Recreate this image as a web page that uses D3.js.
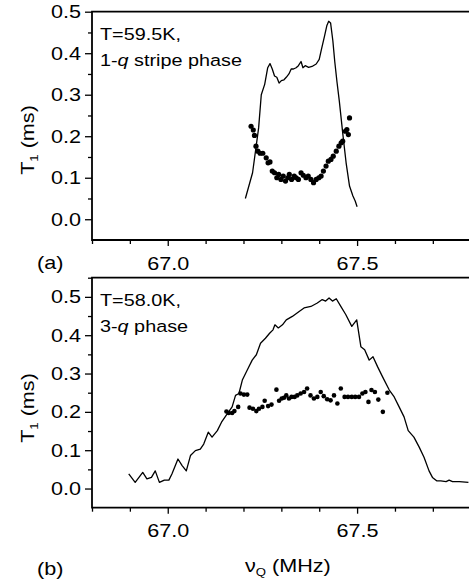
<!DOCTYPE html>
<html>
<head>
    <meta charset="utf-8">
    <title>T1 vs nuQ</title>
    <script type="text/javascript" src="https://cdn.jsdelivr.net/npm/d3@7"></script>
    <style>
        body { margin: 0; background: #fff; }
        svg { display: block; }
        text { font-family: "Liberation Sans", Arial, sans-serif; fill: #000; }
        .axis path.domain { stroke: none; }
        .axis line { stroke: #000; stroke-width: 1.3; }
    </style>
</head>
<body>
<script type="text/javascript">
// ---- data ----
var xMajor = [67.0, 67.5],
    xMinor = [66.8, 66.9, 67.1, 67.2, 67.3, 67.4, 67.6, 67.7],
    xLabels = ["67.0", "67.5"];

var aYMajor = [0, 0.1, 0.2, 0.3, 0.4, 0.5],
    aYMinor = [0.05, 0.15, 0.25, 0.35, 0.45],
    bYMajor = [0, 0.1, 0.2, 0.3, 0.4, 0.5],
    bYMinor = [0.05, 0.15, 0.25, 0.35, 0.45, 0.55];

// panel (a): spectrum line and T1 points
var aLine = [[67.205,0.050],[67.224,0.112],[67.240,0.220],[67.247,0.300],[67.256,0.325],[67.264,0.365],
    [67.270,0.375],[67.276,0.362],[67.282,0.345],[67.288,0.342],[67.294,0.328],[67.300,0.334],
    [67.307,0.336],[67.313,0.342],[67.320,0.350],[67.326,0.362],[67.332,0.362],[67.339,0.365],
    [67.345,0.370],[67.352,0.380],[67.357,0.365],[67.363,0.370],[67.372,0.366],[67.381,0.368],
    [67.392,0.374],[67.400,0.385],[67.406,0.410],[67.414,0.441],[67.420,0.466],[67.425,0.477],
    [67.430,0.473],[67.436,0.430],[67.441,0.380],[67.447,0.330],[67.453,0.285],[67.462,0.208],
    [67.471,0.136],[67.480,0.080],[67.489,0.056],[67.495,0.044],[67.500,0.030]];

var aDots = [[67.220,0.224],[67.226,0.215],[67.229,0.202],[67.233,0.176],[67.238,0.164],[67.244,0.159],
    [67.251,0.159],[67.260,0.148],[67.265,0.136],[67.270,0.138],[67.276,0.116],[67.282,0.112],
    [67.288,0.100],[67.293,0.108],[67.299,0.096],[67.305,0.104],[67.311,0.092],[67.317,0.100],
    [67.321,0.108],[67.327,0.096],[67.334,0.104],[67.339,0.100],[67.345,0.096],[67.352,0.112],
    [67.358,0.106],[67.365,0.100],[67.371,0.104],[67.378,0.096],[67.385,0.088],[67.392,0.096],
    [67.399,0.100],[67.405,0.104],[67.411,0.116],[67.418,0.128],[67.424,0.140],[67.431,0.144],
    [67.437,0.152],[67.445,0.164],[67.452,0.176],[67.458,0.184],[67.462,0.188],[67.469,0.212],
    [67.473,0.216],[67.477,0.204],[67.480,0.244]];

// panel (b)
var bLine = [[66.897,0.038],[66.914,0.016],[66.934,0.042],[66.945,0.025],[66.957,0.029],[66.967,0.046],
    [66.978,0.016],[66.991,0.022],[67.003,0.022],[67.011,0.038],[67.027,0.077],[67.038,0.060],
    [67.049,0.046],[67.060,0.086],[67.073,0.099],[67.086,0.103],[67.095,0.116],[67.107,0.147],
    [67.117,0.134],[67.131,0.151],[67.142,0.173],[67.157,0.195],[67.170,0.213],[67.179,0.243],
    [67.188,0.248],[67.197,0.283],[67.210,0.309],[67.223,0.335],[67.234,0.349],[67.245,0.379],
    [67.258,0.392],[67.269,0.405],[67.278,0.414],[67.283,0.427],[67.292,0.419],[67.303,0.427],
    [67.313,0.440],[67.329,0.449],[67.347,0.462],[67.360,0.471],[67.378,0.475],[67.395,0.484],
    [67.408,0.493],[67.417,0.489],[67.426,0.497],[67.435,0.489],[67.445,0.495],[67.457,0.475],
    [67.470,0.454],[67.486,0.423],[67.499,0.440],[67.510,0.370],[67.520,0.362],[67.532,0.335],
    [67.542,0.344],[67.554,0.318],[67.567,0.292],[67.585,0.257],[67.598,0.239],[67.611,0.213],
    [67.624,0.187],[67.635,0.151],[67.650,0.134],[67.664,0.108],[67.677,0.081],[67.690,0.046],
    [67.699,0.029],[67.710,0.020],[67.721,0.020],[67.735,0.018],[67.743,0.022],[67.752,0.018],
    [67.770,0.018],[67.794,0.016]];

var bDots = [[67.155,0.201],[67.161,0.197],[67.170,0.197],[67.176,0.202],[67.186,0.213],[67.192,0.248],
    [67.201,0.245],[67.210,0.245],[67.216,0.211],[67.225,0.208],[67.234,0.202],[67.241,0.208],
    [67.250,0.213],[67.256,0.229],[67.265,0.215],[67.274,0.219],[67.287,0.258],[67.294,0.229],
    [67.301,0.235],[67.307,0.237],[67.313,0.243],[67.320,0.235],[67.327,0.239],[67.335,0.239],
    [67.342,0.243],[67.351,0.248],[67.360,0.252],[67.368,0.261],[67.377,0.243],[67.386,0.235],
    [67.395,0.239],[67.404,0.252],[67.412,0.241],[67.421,0.233],[67.430,0.230],[67.439,0.243],
    [67.448,0.222],[67.457,0.261],[67.467,0.239],[67.476,0.239],[67.486,0.239],[67.495,0.239],
    [67.505,0.239],[67.514,0.248],[67.522,0.252],[67.530,0.226],[67.538,0.257],[67.547,0.252],
    [67.556,0.232],[67.568,0.200],[67.580,0.250]];

// ---- layout ----
var _width = 469, _height = 584,
    _stretch = 1.2;   // the original lettering is wide

var svg = d3.select("body").append("svg")
        .attr("width", _width)
        .attr("height", _height);

var x = d3.scaleLinear().domain([66.8, 67.8]).range([92, 470.7]);

function wideText(g, tx, ty, size) {
    return g.append("text")
            .attr("transform", "translate(" + tx + "," + ty + ") scale(" + _stretch + ",1)")
            .style("font-size", size + "px");
}

function renderPanel(opt) {
    var y = d3.scaleLinear().domain(opt.yDomain).range([opt.bottom, opt.top]);
    var g = svg.append("g").attr("class", "panel");

    // y ticks
    g.append("g")
            .attr("class", "axis")
            .attr("transform", "translate(" + x.range()[0] + ",0)")
            .call(d3.axisLeft(y).tickValues(opt.yMinor).tickSize(4).tickFormat(""));
    var yAx = g.append("g")
            .attr("class", "axis")
            .attr("transform", "translate(" + x.range()[0] + ",0)")
            .call(d3.axisLeft(y).tickValues(opt.yMajor).tickSize(7).tickFormat(d3.format(".1f")));
    yAx.selectAll("text")
            .attr("x", 0).attr("dy", null)
            .attr("text-anchor", "end")
            .attr("transform", "translate(-11,6) scale(" + _stretch + ",1)")
            .style("font-size", "18px");

    // x ticks
    g.append("g")
            .attr("class", "axis")
            .attr("transform", "translate(0," + opt.bottom + ")")
            .call(d3.axisBottom(x).tickValues(xMinor).tickSize(4).tickFormat(""));
    var xAx = g.append("g")
            .attr("class", "axis")
            .attr("transform", "translate(0," + opt.bottom + ")")
            .call(d3.axisBottom(x).tickValues(xMajor).tickSize(6)
                    .tickFormat(function (d, i) { return xLabels[i]; }));
    xAx.selectAll("text")
            .attr("y", 0).attr("dy", null)
            .attr("transform", "translate(0," + opt.labelDy + ") scale(" + _stretch + ",1)")
            .style("font-size", "18px");

    // frame: top, left, bottom
    var x0 = x.range()[0], x1 = x.range()[1];
    g.append("path")
            .attr("d", "M" + x1 + "," + opt.top + "H" + x0 + "V" + opt.bottom + "H" + x1)
            .attr("fill", "none")
            .attr("stroke", "#000")
            .attr("stroke-width", 1.8);

    // spectrum
    var line = d3.line()
            .x(function (d) { return x(d[0]); })
            .y(function (d) { return y(d[1]); });
    g.append("path")
            .datum(opt.line)
            .attr("d", line)
            .attr("fill", "none")
            .attr("stroke", "#000")
            .attr("stroke-width", 1.3)
            .attr("stroke-linejoin", "round");

    // T1 points
    g.selectAll("circle.pt")
            .data(opt.dots)
            .enter().append("circle")
            .attr("class", "pt")
            .attr("cx", function (d) { return x(d[0]); })
            .attr("cy", function (d) { return y(d[1]); })
            .attr("r", opt.r)
            .attr("fill", "#000");

    // y title
    var t = g.append("text")
            .attr("transform", "translate(34," + opt.titleY + ") rotate(-90) scale(" + _stretch + ",1)")
            .attr("text-anchor", "middle")
            .style("font-size", "18px");
    t.append("tspan").text("T");
    t.append("tspan").attr("dy", 4).style("font-size", "11px").text("1");
    t.append("tspan").attr("dy", -4).text(" (ms)");

    // annotation
    wideText(g, 100, opt.top + 28, 16.5).text(opt.note1);
    var n2 = wideText(g, 100, opt.top + 54, 16.5);
    n2.append("tspan").text(opt.note2a);
    n2.append("tspan").style("font-style", "italic").text("q");
    n2.append("tspan").text(opt.note2b);

    wideText(g, 37, opt.tagY, 18).text(opt.tag);
}

renderPanel({
    top: 11.7, bottom: 240, yDomain: [-0.05, 0.5],
    yMajor: aYMajor, yMinor: aYMinor, labelDy: 30,
    line: aLine, dots: aDots, r: 2.6, titleY: 140,
    note1: "T=59.5K,", note2a: "1-", note2b: " stripe phase",
    tag: "(a)", tagY: 269
});

renderPanel({
    top: 277.7, bottom: 507.7, yDomain: [-0.05, 0.55],
    yMajor: bYMajor, yMinor: bYMinor, labelDy: 29,
    line: bLine, dots: bDots, r: 2.3, titleY: 408,
    note1: "T=58.0K,", note2a: "3-", note2b: " phase",
    tag: "(b)", tagY: 575
});

// x title
var xt = wideText(svg, 245, 572, 18);
xt.append("tspan").text("\u03bd");
xt.append("tspan").attr("dy", 4).style("font-size", "11px").text("Q");
xt.append("tspan").attr("dy", -4).text(" (MHz)");
</script>
</body>
</html>
